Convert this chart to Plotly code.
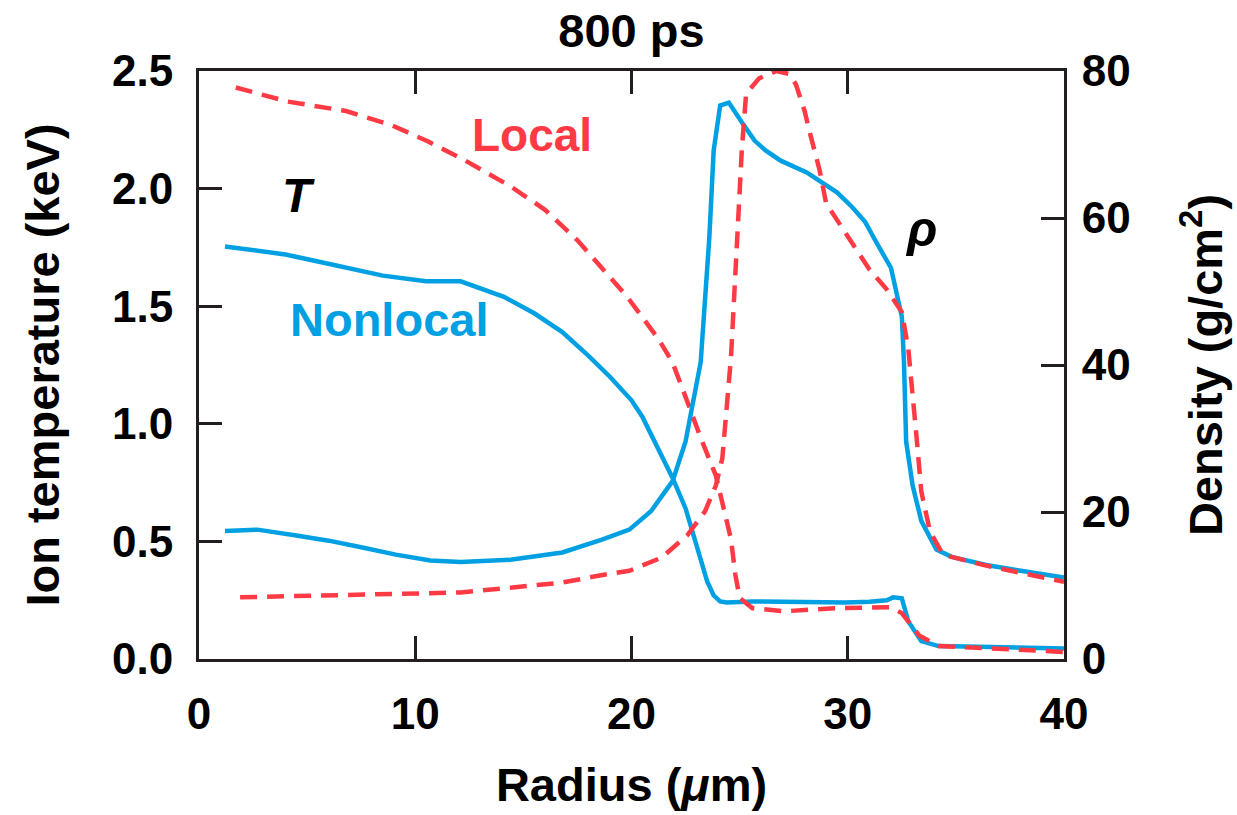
import plotly.graph_objects as go

# Ion temperature (keV) vs radius (um)
t_nonlocal_x = [1.2, 2.5, 4.0, 5.5, 6.8, 8.5, 10.5, 12.1, 14.1, 15.5, 16.8, 18.0, 19.0, 20.0, 20.5,
                21.25, 21.9, 22.5, 23.1, 23.5, 23.8, 24.1, 24.4, 25.6, 27.0, 29.0, 29.9, 31.0, 31.8,
                32.1, 32.5, 32.8, 33.4, 34.2, 36.5, 40.0]
t_nonlocal_y = [1.754, 1.74, 1.72, 1.69, 1.665, 1.63, 1.606, 1.606, 1.54, 1.47, 1.39, 1.29, 1.20, 1.10, 1.03,
                0.89, 0.77, 0.64, 0.46, 0.33, 0.27, 0.245, 0.24, 0.245, 0.243, 0.24, 0.24, 0.243, 0.25,
                0.262, 0.258, 0.16, 0.076, 0.055, 0.05, 0.045]

t_local_x = [1.7, 4.1, 6.8, 8.9, 10.6, 12.3, 14.4, 16.0, 17.5, 19.1, 19.8, 21.25, 21.9, 22.6, 23.2,
             23.9, 24.2, 24.6, 24.8, 25.0, 25.6, 27.1, 29.4, 32.0, 32.5, 33.3, 34.2, 36.4, 40.0]
t_local_y = [2.43, 2.37, 2.33, 2.27, 2.20, 2.12, 2.01, 1.91, 1.78, 1.61, 1.54, 1.36, 1.26, 1.09, 0.94,
             0.78, 0.67, 0.51, 0.36, 0.26, 0.216, 0.203, 0.216, 0.22, 0.195, 0.10, 0.055, 0.047, 0.03]

# Density vs radius (um)
rho_nonlocal_x = [1.2, 2.7, 4.5, 6.0, 7.5, 9.1, 10.7, 12.1, 14.4, 16.8, 18.6, 19.9, 20.9, 21.9, 22.5,
                  22.8, 23.2, 23.6, 23.8, 24.1, 24.5, 25.2, 25.7, 26.2, 26.9, 28.1, 28.8, 29.5, 30.2,
                  30.8, 31.3, 32.0, 32.5, 32.6, 32.7, 33.0, 33.4, 34.1, 34.8, 36.4, 38.0, 40.0]
rho_nonlocal_y = [17.4, 17.6, 16.8, 16.1, 15.2, 14.2, 13.4, 13.2, 13.5, 14.5, 16.2, 17.6, 20.1, 24.2, 29.6,
                  34.0, 40.4, 57.4, 69.2, 75.3, 75.7, 72.6, 70.5, 69.2, 67.8, 66.2, 64.9, 63.5, 61.5,
                  59.5, 56.8, 53.2, 46.6, 40.4, 29.6, 23.6, 18.8, 14.9, 13.9, 12.8, 12.0, 11.1]

rho_local_x = [1.9, 5.0, 9.8, 12.1, 14.4, 16.8, 18.6, 19.9, 21.4, 22.6, 23.4, 23.9, 24.2, 24.4, 24.6,
               24.7, 24.9, 25.1, 25.3, 25.9, 26.7, 27.3, 27.6, 28.0, 28.3, 28.7, 29.0, 29.6, 30.2,
               31.0, 31.8, 32.5, 32.8, 33.0, 33.2, 33.4, 33.8, 34.4, 36.4, 40.0]
rho_local_y = [8.4, 8.6, 8.8, 9.05, 9.7, 10.4, 11.4, 12.0, 13.8, 16.9, 20.1, 23.6, 27.3, 34.0, 41.0,
               46.6, 57.4, 69.2, 76.9, 79.0, 80.0, 79.6, 78.2, 74.6, 71.0, 66.5, 62.0, 59.3, 56.6,
               53.0, 50.3, 47.2, 42.2, 36.4, 29.6, 22.8, 17.4, 14.2, 12.7, 10.5]

x_ticks = [0, 10, 20, 30, 40]
t_ticks = [0.0, 0.5, 1.0, 1.5, 2.0, 2.5]
rho_ticks = [0, 20, 40, 60, 80]

BLUE = "#00A0E3"
RED = "#FF3A44"
INK = "#231F20"
FONT = "Liberation Sans, Arial, Helvetica, sans-serif"
LW = 4.5
DASH = "17px,10px"

fig = go.Figure()
fig.add_trace(go.Scatter(x=t_nonlocal_x, y=t_nonlocal_y, mode="lines", name="T nonlocal",
                         line=dict(color=BLUE, width=LW), yaxis="y"))
fig.add_trace(go.Scatter(x=t_local_x, y=t_local_y, mode="lines", name="T local",
                         line=dict(color=RED, width=LW, dash=DASH), yaxis="y"))
fig.add_trace(go.Scatter(x=rho_nonlocal_x, y=rho_nonlocal_y, mode="lines", name="rho nonlocal",
                         line=dict(color=BLUE, width=LW), yaxis="y2"))
fig.add_trace(go.Scatter(x=rho_local_x, y=rho_local_y, mode="lines", name="rho local",
                         line=dict(color=RED, width=LW, dash=DASH), yaxis="y2"))

tickfont = dict(family=FONT, size=44, color="black", weight="bold")
titlefont = dict(family=FONT, size=47, color="black", weight="bold")

fig.update_layout(
    width=1237, height=815,
    margin=dict(l=199, r=173, t=71, b=153),
    paper_bgcolor="white", plot_bgcolor="white",
    showlegend=False,
    title=dict(text="800 ps", x=0.5, xanchor="center", xref="paper", y=1.0, yref="container",
               yanchor="top", pad=dict(t=14), font=titlefont),
    xaxis=dict(range=[0, 40], tickvals=x_ticks, ticks="inside", ticklen=23, tickwidth=3,
               tickcolor=INK, showline=True, linewidth=3, linecolor=INK, mirror="ticks",
               showgrid=False, zeroline=False, tickfont=tickfont, ticklabelstandoff=14,
               title=dict(text="Radius (<i>μ</i>m)", font=titlefont, standoff=32)),
    yaxis=dict(range=[0, 2.5], tickvals=t_ticks, tickformat=".1f", ticks="inside", ticklen=23,
               tickwidth=3, tickcolor=INK, showline=True, linewidth=3, linecolor=INK,
               showgrid=False, zeroline=False, tickfont=tickfont, ticklabelstandoff=14,
               title=dict(text="Ion temperature (keV)", font=titlefont, standoff=38)),
    yaxis2=dict(range=[0, 80], tickvals=rho_ticks, overlaying="y", side="right", ticks="inside",
                ticklen=23, tickwidth=3, tickcolor=INK, showline=True, linewidth=3, linecolor=INK,
                showgrid=False, zeroline=False, tickfont=tickfont, ticklabelstandoff=6,
                title=dict(text="Density (g/cm<sup>2</sup>)", font=titlefont, standoff=60)),
)

fig.add_annotation(x=15.4, y=2.23, xref="x", yref="y", text="Local", showarrow=False,
                   font=dict(family=FONT, size=46, color=RED, weight="bold"))
fig.add_annotation(x=8.8, y=1.445, xref="x", yref="y", text="Nonlocal", showarrow=False,
                   font=dict(family=FONT, size=47, color=BLUE, weight="bold"))
fig.add_annotation(x=4.6, y=1.97, xref="x", yref="y", text="<i>T</i>", showarrow=False,
                   font=dict(family=FONT, size=48, color="black", weight="bold"))
fig.add_annotation(x=33.4, y=1.83, xref="x", yref="y", text="<i>ρ</i>", showarrow=False,
                   font=dict(family=FONT, size=50, color="black", weight="bold"))

fig.write_html("out.html")
